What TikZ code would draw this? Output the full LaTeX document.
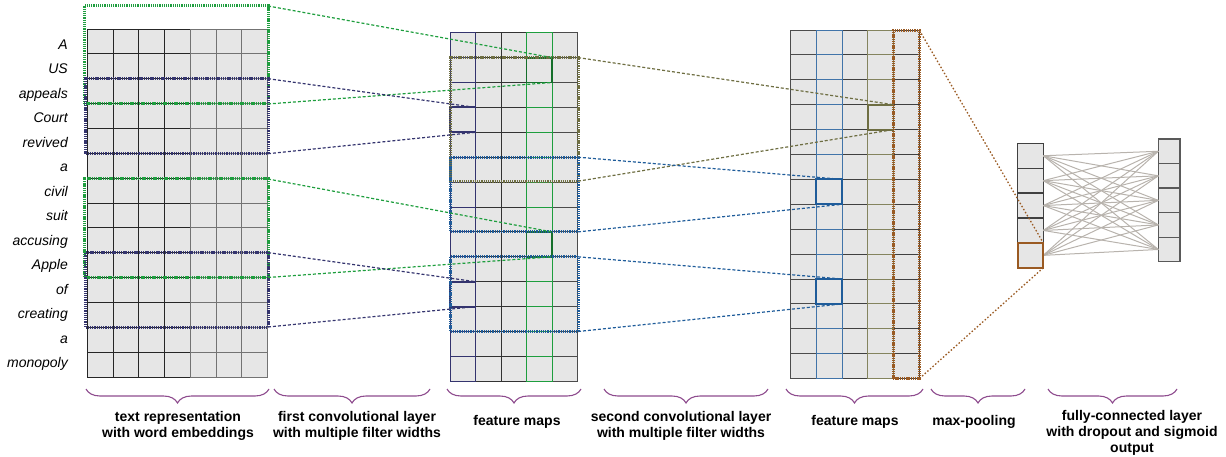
\documentclass[tikz,border=0pt]{standalone}
\usepackage{fontspec}
\setmainfont{Liberation Sans}
\usetikzlibrary{decorations.pathreplacing,calc}
\definecolor{cellfill}{HTML}{E6E6E6}
\definecolor{cgreen}{HTML}{1E9E3E}
\definecolor{cnavy}{HTML}{34346E}
\definecolor{colive}{HTML}{6E6E42}
\definecolor{cblue}{HTML}{1F5C9A}
\definecolor{cbrown}{HTML}{9A5A22}
\definecolor{cpurple}{HTML}{8E4C8E}
\definecolor{cfc}{HTML}{B8B3AD}
\begin{document}
\begin{tikzpicture}[x=1pt,y=-1pt,
  cellL/.style={draw=#1, fill=cellfill, line width=0.9pt, minimum width=25.7pt, minimum height=24.86pt, inner sep=0pt, outer sep=0pt},
  cellM/.style={draw=#1, fill=cellfill, line width=0.9pt, minimum width=25.5pt, minimum height=24.9pt, inner sep=0pt, outer sep=0pt},
  cellR/.style={draw=#1, fill=cellfill, line width=0.9pt, minimum width=25.7pt, minimum height=24.9pt, inner sep=0pt, outer sep=0pt},
  cellP/.style={draw=#1, fill=cellfill, line width=1.3pt, minimum width=25.6pt, minimum height=24.9pt, inner sep=0pt, outer sep=0pt},
  cellO/.style={draw=#1, fill=cellfill, line width=1.3pt, minimum width=21.7pt, minimum height=24.55pt, inner sep=0pt, outer sep=0pt},
  hbox/.style={draw=#1, line width=3pt, dash pattern=on 1.3pt off 0.9pt, inner sep=0pt, outer sep=0pt},
  hl/.style={draw=#1, line width=1.9pt},
  conn/.style={draw=#1, line width=1.2pt, dash pattern=on 3pt off 2pt},
  fcline/.style={draw=cfc, line width=1pt},
  brace/.style={draw=cpurple, line width=1.1pt, decorate, decoration={brace,mirror,amplitude=14pt}},
  word/.style={anchor=east, font=\itshape\fontsize{14}{16}\selectfont, inner sep=0pt, text height=10pt, text depth=3pt},
  lbl/.style={align=center, font=\bfseries\fontsize{14}{16}\selectfont, inner sep=0pt}
]
\useasboundingbox (0,0) rectangle (1226,457);

% ---------- left grid ----------
\foreach \r in {0,...,13}{
  \foreach \c in {0,...,3}{
    \node[cellL=black!85] (L-\r-\c) at ({87.5+25.7*(\c+0.5)},{29+24.86*(\r+0.5)}) {};
  }
  \foreach \c in {4,...,6}{
    \node[cellL=black!55] (L-\r-\c) at ({87.5+25.7*(\c+0.5)},{29+24.86*(\r+0.5)}) {};
  }
}
% words
\foreach \w [count=\i from 0] in {A,US,appeals,Court,revived,a,civil,suit,accusing,Apple,of,creating,a,monopoly}{
  \node[word] (w\i) at (68,{46+24.46*\i}) {\w};
}

% ---------- middle grid ----------
\foreach \r in {0,...,13}{
  \foreach \c/\col in {1/black!80,2/black!80,4/black!70}{
    \node[cellM=\col] (M-\r-\c) at ({450+25.5*(\c+0.5)},{32.7+24.9*(\r+0.5)}) {};
  }
}
\foreach \r in {0,...,13}{
  \node[cellM=cnavy] (M-\r-0) at ({450+25.5*0.5},{32.7+24.9*(\r+0.5)}) {};
  \node[cellM=cgreen] (M-\r-3) at ({450+25.5*3.5},{32.7+24.9*(\r+0.5)}) {};
}

% ---------- right grid ----------
\foreach \r in {0,...,13}{
  \foreach \c/\col in {0/black!70,2/black!75,4/black!75}{
    \node[cellR=\col] (R-\r-\c) at ({790.7+25.7*(\c+0.5)},{30+24.9*(\r+0.5)}) {};
  }
}
\foreach \r in {0,...,13}{
  \node[cellR=cblue!85] (R-\r-1) at ({790.7+25.7*1.5},{30+24.9*(\r+0.5)}) {};
  \node[cellR=colive!85] (R-\r-3) at ({790.7+25.7*3.5},{30+24.9*(\r+0.5)}) {};
}

% ---------- max-pooling and output cells ----------
\foreach \i in {0,...,4}{
  \node[cellP=black!75] (P-\i) at (1030.5,{143.3+24.9*(\i+0.5)}) {};
  \node[cellO=black!65] (O-\i) at (1169.15,{139+24.55*(\i+0.5)}) {};
}
\foreach \i in {0,...,4}{
  \foreach \j in {0,...,4}{
    \draw[fcline] (P-\i.east) -- (O-\j.west);
  }
}
\draw[hl=cbrown] (P-4.north west) rectangle (P-4.south east);

% ---------- highlighted cells ----------
\draw[hl=cgreen!70!black] (M-1-3.north west) rectangle (M-1-3.south east);
\draw[hl=cgreen!70!black] (M-8-3.north west) rectangle (M-8-3.south east);
\draw[hl=cnavy] (M-3-0.north west) rectangle (M-3-0.south east);
\draw[hl=cnavy] (M-10-0.north west) rectangle (M-10-0.south east);
\draw[hl=colive] (R-3-3.north west) rectangle (R-3-3.south east);
\draw[hl=cblue] (R-6-1.north west) rectangle (R-6-1.south east);
\draw[hl=cblue] (R-10-1.north west) rectangle (R-10-1.south east);

% ---------- filter boxes ----------
\node[hbox=cgreen, minimum width=184pt, minimum height=98pt] (gb1) at (176,55) {};
\node[hbox=cnavy, minimum width=182.5pt, minimum height=75pt] (nb1) at (176.75,116.2) {};
\node[hbox=cgreen, minimum width=184pt, minimum height=98.5pt] (gb2) at (176,228.25) {};
\node[hbox=cnavy, minimum width=182.5pt, minimum height=74.4pt] (nb2) at (176.75,289.8) {};
\node[hbox=colive, minimum width=127.5pt, minimum height=123.6pt] (ob1) at (514.25,119.4) {};
\node[hbox=cblue, minimum width=127.5pt, minimum height=74.7pt] (bb1) at (514.25,194.55) {};
\node[hbox=cblue, minimum width=127.5pt, minimum height=74.7pt] (bb2) at (514.25,294.15) {};
\node[hbox=cbrown, minimum width=26.5pt, minimum height=348pt] (rb1) at (906.25,204.5) {};

% ---------- connectors ----------
\draw[conn=cgreen] (gb1.north east) -- (M-1-3.north east);
\draw[conn=cgreen] (gb1.south east) -- (M-1-3.south east);
\draw[conn=cnavy] (nb1.north east) -- (M-3-0.north east);
\draw[conn=cnavy] (nb1.south east) -- (M-3-0.south east);
\draw[conn=cgreen] (gb2.north east) -- (M-8-3.north east);
\draw[conn=cgreen] (gb2.south east) -- (M-8-3.south east);
\draw[conn=cnavy] (nb2.north east) -- (M-10-0.north east);
\draw[conn=cnavy] (nb2.south east) -- (M-10-0.south east);
\draw[conn=colive] (ob1.north east) -- (R-3-3.north east);
\draw[conn=colive] (ob1.south east) -- (R-3-3.south east);
\draw[conn=cblue] (bb1.north east) -- (R-6-1.north east);
\draw[conn=cblue] (bb1.south east) -- (R-6-1.south east);
\draw[conn=cblue] (bb2.north east) -- (R-10-1.north east);
\draw[conn=cblue] (bb2.south east) -- (R-10-1.south east);
\draw[draw=cbrown, line width=1.3pt, dash pattern=on 1.5pt off 2pt] (rb1.north east) -- (P-4.north east);
\draw[draw=cbrown, line width=1.3pt, dash pattern=on 1.5pt off 2pt] (rb1.south east) -- (P-4.south east);

% ---------- braces ----------
\draw[brace] (86,389) -- (269,389);
\draw[brace] (274,389) -- (430,389);
\draw[brace] (447,389) -- (581,389);
\draw[brace] (604,389) -- (768,389);
\draw[brace] (786,389) -- (923,389);
\draw[brace] (931,389) -- (1025,389);
\draw[brace] (1048,389) -- (1177,389);

% ---------- labels ----------
\node[lbl] (t1) at (178,426) {text representation\\with word embeddings};
\node[lbl] (t2) at (357,426) {first convolutional layer\\with multiple filter widths};
\node[lbl] (t3) at (517,422) {feature maps};
\node[lbl] (t4) at (681,426) {second convolutional layer\\with multiple filter widths};
\node[lbl] (t5) at (855,422) {feature maps};
\node[lbl] (t6) at (974,422) {max-pooling};
\node[lbl] (t7) at (1132,433) {fully-connected layer\\with dropout and sigmoid\\output};
\end{tikzpicture}
\end{document}
